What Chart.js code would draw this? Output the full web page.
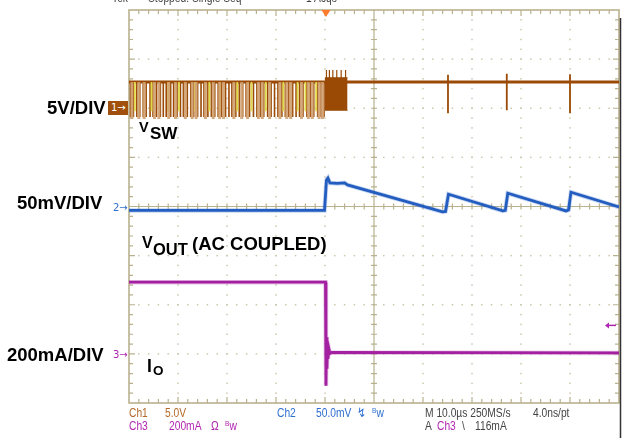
<!DOCTYPE html>
<html>
<head>
<meta charset="utf-8">
<script src="https://cdn.jsdelivr.net/npm/chart.js@4.4.1/dist/chart.umd.min.js"></script>
<style>
  html, body { margin: 0; padding: 0; background: #fff; }
  #wrap { position: relative; width: 623px; height: 438px; overflow: hidden; }
  #scope { position: absolute; left: 0; top: 0; }
  .lbl { position: absolute; font-family: "Liberation Sans", Arial, sans-serif; font-weight: bold; color: #000; white-space: nowrap; line-height: 1; }
  .st { position: absolute; font-family: "Liberation Sans", Arial, sans-serif; font-size: 12.5px; white-space: nowrap; line-height: 1; transform: scaleX(0.82); transform-origin: 0 0; }
  .mk { position: absolute; font-family: "DejaVu Sans", sans-serif; font-size: 10px; line-height: 1; white-space: nowrap; }
  .c1 { color: #b2692a; } .c2 { color: #2f6fcf; } .c3 { color: #b025b0; } .cg { color: #444; }
  .bw { font-size: 8px; vertical-align: 4px; }
</style>
</head>
<body>
<div id="wrap">
  <canvas id="scope" width="623" height="438"></canvas>

  <div class="st cg" style="left:112px;top:-8px">Tek</div>
  <div class="st cg" style="left:148px;top:-8px">Stopped: Single Seq</div>
  <div class="st cg" style="left:306px;top:-8px">1 Acqs</div>

  <div class="lbl" style="left:47px;top:99px;font-size:18.5px">5V/DIV</div>
  <div class="lbl" style="left:17px;top:194px;font-size:18.5px">50mV/DIV</div>
  <div class="lbl" style="left:7px;top:346px;font-size:18.5px">200mA/DIV</div>

  <div class="lbl" style="left:139px;top:120px;font-size:14.5px">V</div>
  <div class="lbl" style="left:150px;top:125px;font-size:17px">SW</div>
  <div class="lbl" style="left:142px;top:235px;font-size:16px">V</div>
  <div class="lbl" style="left:153px;top:241px;font-size:16.5px">OUT</div>
  <div class="lbl" style="left:192px;top:235px;font-size:18.5px">(AC COUPLED)</div>
  <div class="lbl" style="left:147px;top:358px;font-size:17.5px">I</div>
  <div class="lbl" style="left:153px;top:364px;font-size:13.5px">O</div>

  <div class="mk" style="left:108px;top:101px;width:20px;height:14px;background:#a0500c;color:#fff;padding:2px 0 0 3px;box-sizing:border-box">1&#8594;</div>
  <div class="mk c2" style="left:113px;top:203px">2&#8594;</div>
  <div class="mk c3" style="left:113px;top:350px">3&#8594;</div>

  <div class="st c1" style="left:129px;top:407px">Ch1</div>
  <div class="st c1" style="left:165px;top:407px">5.0V</div>
  <div class="st c2" style="left:277px;top:407px">Ch2</div>
  <div class="st c2" style="left:316px;top:407px">50.0mV</div>
  <div class="st c2" style="left:357px;top:407px">&#8623;</div>
  <div class="st c2" style="left:372px;top:407px"><span class="bw">B</span>w</div>
  <div class="st cg" style="left:425px;top:407px">M 10.0&#181;s 250MS/s</div>
  <div class="st cg" style="left:533px;top:407px">4.0ns/pt</div>

  <div class="st c3" style="left:129px;top:420px">Ch3</div>
  <div class="st c3" style="left:169px;top:420px">200mA</div>
  <div class="st c3" style="left:211px;top:420px">&#937;</div>
  <div class="st c3" style="left:225px;top:420px"><span class="bw">B</span>w</div>
  <div class="st cg" style="left:425px;top:420px">A</div>
  <div class="st c3" style="left:437px;top:420px">Ch3</div>
  <div class="st cg" style="left:462px;top:420px">\</div>
  <div class="st cg" style="left:475px;top:420px">116mA</div>
</div>

<script>
// horizontal: 10 us/div, 10 divisions
const timeMin = 0, timeMax = 100;
const triggerTime = 40.2;   // us
const triggerLevel = 116;   // mA on Ch3

// Ch1 VSW, 5 V/div (volts)
const swHigh = 2.68;
const pulseDark = [0.3, 0.9, 1.6, 2.2, 2.9, 3.5, 4.3, 4.9, 5.6, 6.4, 7.0, 7.6, 8.5, 9.1, 9.8, 10.5, 11.1, 11.9,
  12.6, 13.2, 14.0, 14.7, 15.3, 16.1, 16.8, 17.5, 18.2, 18.9, 19.7, 20.4, 21.0, 21.8, 22.5, 23.2, 23.9, 24.6,
  25.4, 26.1, 26.8, 27.5, 28.3, 29.0, 29.7, 30.4, 31.2, 31.9, 32.6, 33.4, 34.1, 34.8, 35.5, 36.3, 37.0, 37.7,
  38.5, 39.2, 39.8];
const pulseTan = [0.6, 2.0, 3.1, 5.2, 6.1, 8.1, 9.5, 11.5, 12.9, 13.7, 15.6, 17.2, 18.5, 19.3, 21.4, 23.0,
  24.2, 26.4, 27.2, 28.7, 30.8, 32.2, 33.0, 35.2, 36.6, 37.4, 38.8, 39.5];
const pulseYellow = [1.2, 4.6, 8.0, 10.2, 13.5, 16.4, 18.6, 22.1, 25.0, 27.9, 31.5, 34.4, 36.0, 38.2];
const pulseLow = { dark: -0.9, tan: -1.1, yellow: -0.3 };
const burstTime = [40.0, 44.6];
const burstTop = 3.1, burstBottom = -0.2;
const burstSpikes = [40.3, 40.9, 41.6, 42.4, 43.3, 44.2];
const burstSpikeTop = 3.9;
const swSpikeTime = [65.1, 77.1, 90.0];
const swSpikeUp = [3.4, 3.5, 3.45];
const swSpikeLow = [-0.5, -0.2, -0.5];

// Ch2 VOUT (AC coupled), 50 mV/div (mV)
const outTime = [0, 39.9, 40.3, 40.6, 41.0, 42.5, 44.0, 44.6, 64.0, 64.6, 65.2, 76.3, 76.8, 77.3, 89.2, 89.7, 90.2, 100];
const outMv = [-4, -4, 27, 29, 24, 23.5, 24, 22, -5.5, -5, 12.5, -4.5, -4, 13.5, -4.5, -3.5, 14.5, -0.5];

// Ch3 IO, 200 mA/div (mA)
const ioTime = [0, 40.1, 40.2, 40.3, 40.4, 40.5, 40.6, 40.8, 41.0, 41.4, 100];
const ioMa = [292, 292, -130, 68, -60, 40, -20, 20, 2, 6, 4];

function pulses(times, lo, hi) {
  const pts = [];
  times.forEach((t, i) => {
    const l = Array.isArray(lo) ? lo[i] : lo, h = Array.isArray(hi) ? hi[i] : hi;
    pts.push({x: t, y: h}, {x: t, y: l}, {x: t, y: null});
  });
  return pts;
}
const xy = (xs, ys) => xs.map((x, i) => ({x: x, y: ys[i]}));

const BROWN = '#9a4a05';

const scopeGrid = {
  id: 'scopeGrid',
  beforeDatasetsDraw(chart) {
    const {ctx, chartArea: a} = chart;
    const dx = (a.right - a.left) / 10, dy = (a.bottom - a.top) / 8;
    const cx = a.left + 5 * dx, cy = a.top + 4 * dy;
    ctx.save();
    // dotted grid
    ctx.fillStyle = '#cdc7ad';
    for (let i = 1; i < 10; i++) {
      if (i === 5) continue;
      const x = a.left + i * dx;
      for (let k = 1; k < 40; k++) ctx.fillRect(x - 0.75, a.top + k * dy / 5 - 0.75, 1.5, 1.5);
    }
    for (let j = 1; j < 8; j++) {
      if (j === 4) continue;
      const y = a.top + j * dy;
      for (let k = 1; k < 50; k++) ctx.fillRect(a.left + k * dx / 5 - 0.75, y - 0.75, 1.5, 1.5);
    }
    ctx.strokeStyle = '#b9b18e';
    ctx.lineWidth = 1.2;
    // center cross
    ctx.beginPath();
    ctx.moveTo(cx, a.top); ctx.lineTo(cx, a.bottom);
    ctx.moveTo(a.left, cy); ctx.lineTo(a.right, cy);
    for (let k = 1; k < 40; k++) { const y = a.top + k * dy / 5; ctx.moveTo(cx - 3, y); ctx.lineTo(cx + 3, y); }
    for (let k = 1; k < 50; k++) { const x = a.left + k * dx / 5; ctx.moveTo(x, cy - 3); ctx.lineTo(x, cy + 3); }
    // border ticks
    for (let k = 1; k < 50; k++) {
      const x = a.left + k * dx / 5, len = k % 5 === 0 ? 6 : 4;
      ctx.moveTo(x, a.top); ctx.lineTo(x, a.top + len);
      ctx.moveTo(x, a.bottom); ctx.lineTo(x, a.bottom - len);
    }
    for (let k = 1; k < 40; k++) {
      const y = a.top + k * dy / 5, len = k % 5 === 0 ? 6 : 4;
      ctx.moveTo(a.left, y); ctx.lineTo(a.left + len, y);
      ctx.moveTo(a.right, y); ctx.lineTo(a.right - len, y);
    }
    ctx.stroke();
    ctx.lineWidth = 1.6;
    ctx.strokeRect(a.left, a.top, a.right - a.left, a.bottom - a.top);
    ctx.restore();
  },
  afterDatasetsDraw(chart) {
    const {ctx, chartArea: a, scales} = chart;
    ctx.save();
    // trigger position marker
    const tx = scales.x.getPixelForValue(triggerTime);
    ctx.fillStyle = '#ff7a2a';
    ctx.beginPath();
    ctx.moveTo(tx - 4.5, a.top); ctx.lineTo(tx + 4.5, a.top); ctx.lineTo(tx, a.top + 7);
    ctx.closePath(); ctx.fill();
    // trigger level marker
    const ty = scales.y3.getPixelForValue(triggerLevel);
    ctx.strokeStyle = '#b025b0'; ctx.fillStyle = '#b025b0'; ctx.lineWidth = 1.5;
    ctx.beginPath(); ctx.moveTo(a.right - 12, ty); ctx.lineTo(a.right - 3, ty); ctx.stroke();
    ctx.beginPath(); ctx.moveTo(a.right - 14, ty); ctx.lineTo(a.right - 10, ty - 3); ctx.lineTo(a.right - 10, ty + 3);
    ctx.closePath(); ctx.fill();
    // screen edge
    ctx.strokeStyle = '#333'; ctx.lineWidth = 1.5;
    ctx.beginPath(); ctx.moveTo(620.5, 18); ctx.lineTo(620.5, 438); ctx.stroke();
    ctx.restore();
  }
};

const line = (data, color, width, axis) => ({
  data: data, yAxisID: axis, borderColor: color, borderWidth: width,
  pointRadius: 0, tension: 0, fill: false, borderCapStyle: 'butt', spanGaps: false
});

new Chart(document.getElementById('scope'), {
  type: 'line',
  data: {
    datasets: [
      line(pulses(pulseTan, pulseLow.tan, swHigh), 'rgba(208,160,112,0.9)', 3, 'y1'),
      line(pulses(pulseYellow, pulseLow.yellow, swHigh), '#e2d948', 1.8, 'y1'),
      line(pulses(pulseDark, pulseLow.dark, swHigh), BROWN, 1.6, 'y1'),
      Object.assign(line(xy(burstTime, [burstTop, burstTop]), BROWN, 1, 'y1'), {fill: '+1', backgroundColor: BROWN}),
      line(xy(burstTime, [burstBottom, burstBottom]), BROWN, 1, 'y1'),
      line(pulses(burstSpikes, swHigh, burstSpikeTop), BROWN, 1.2, 'y1'),
      line(xy([timeMin, timeMax], [swHigh, swHigh]), BROWN, 3, 'y1'),
      line(pulses(swSpikeTime, swSpikeLow, swSpikeUp), BROWN, 1.8, 'y1'),
      line(xy(outTime, outMv), 'rgba(70,120,210,0.3)', 4.5, 'y2'),
      line(xy(outTime, outMv), '#1452b8', 2.8, 'y2'),
      line(xy(ioTime, ioMa), 'rgba(180,70,180,0.3)', 4.5, 'y3'),
      line(xy(ioTime, ioMa), '#9c1298', 2.8, 'y3')
    ]
  },
  options: {
    responsive: false,
    animation: false,
    layout: { padding: { left: 129, right: 4, top: 10, bottom: 35 } },
    plugins: { legend: { display: false }, tooltip: { enabled: false } },
    scales: {
      x: { type: 'linear', min: timeMin, max: timeMax, display: false },
      y1: { min: -30, max: 10, display: false },
      y2: { min: -200, max: 200, display: false },
      y3: { min: -200, max: 1400, display: false }
    }
  },
  plugins: [scopeGrid]
});
</script>
</body>
</html>
